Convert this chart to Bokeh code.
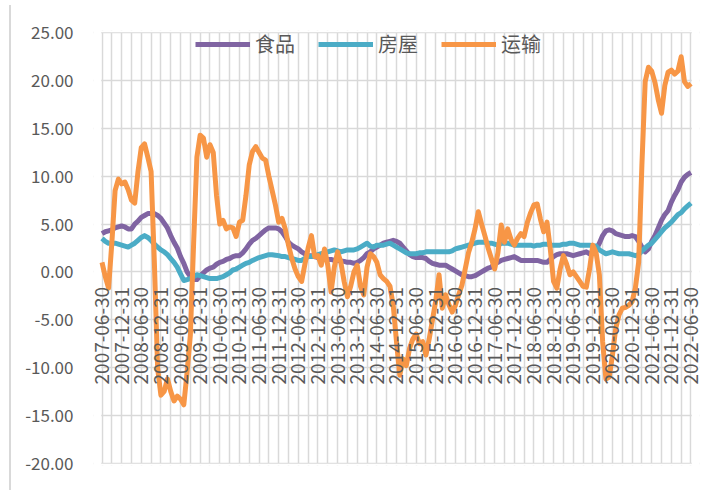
from math import pi
from bokeh.plotting import figure
from bokeh.models import (ColumnDataSource, FixedTicker, NumeralTickFormatter, Range1d, Legend,
                          LegendItem, BoxAnnotation, InlineStyleSheet)
from bokeh.embed import file_html
from bokeh.resources import INLINE

tick_labels = [
    "2007-06-30", "2007-12-31", "2008-06-30", "2008-12-31", "2009-06-30", "2009-12-31",
    "2010-06-30", "2010-12-31", "2011-06-30", "2011-12-31", "2012-06-30", "2012-12-31",
    "2013-06-30", "2013-12-31", "2014-06-30", "2014-12-31", "2015-06-30", "2015-12-31",
    "2016-06-30", "2016-12-31", "2017-06-30", "2017-12-31", "2018-06-30", "2018-12-31",
    "2019-06-30", "2019-12-31", "2020-06-30", "2020-12-31", "2021-06-30", "2021-12-31",
    "2022-06-30",
]

food = [
    4.0, 4.2, 4.3, 4.4, 4.6, 4.7, 4.8, 4.7, 4.5, 4.5, 5.0, 5.3,
    5.7, 5.9, 6.1, 6.1, 6.1, 5.9, 5.6, 5.1, 4.6, 3.8, 3.1, 2.5,
    1.6, 0.9, 0.0, -0.5, -0.8, -0.8, -0.4, -0.1, 0.2, 0.4, 0.5, 0.8,
    1.0, 1.1, 1.3, 1.4, 1.6, 1.7, 1.7, 2.0, 2.4, 2.9, 3.3, 3.5,
    3.8, 4.1, 4.4, 4.6, 4.6, 4.6, 4.5, 4.2, 3.7, 3.1, 2.8, 2.6,
    2.4, 2.1, 1.9, 1.7, 1.7, 1.6, 1.5, 1.5, 1.4, 1.3, 1.3, 1.2,
    1.2, 1.15, 1.1, 1.0, 1.0, 0.9, 1.0, 1.2, 1.5, 1.9, 2.1, 2.4,
    2.6, 2.8, 3.0, 3.1, 3.2, 3.3, 3.2, 3.0, 2.6, 2.2, 1.8, 1.6,
    1.5, 1.5, 1.5, 1.4, 1.1, 0.9, 0.8, 0.7, 0.7, 0.7, 0.5, 0.3,
    0.1, -0.1, -0.3, -0.4, -0.5, -0.5, -0.4, -0.2, 0.0, 0.2, 0.4, 0.5,
    0.9, 1.0, 1.2, 1.3, 1.4, 1.5, 1.6, 1.4, 1.2, 1.2, 1.2, 1.2,
    1.2, 1.2, 1.1, 1.0, 1.0, 1.3, 1.6, 1.8, 1.9, 1.9, 1.9, 1.8,
    1.7, 1.8, 1.9, 2.0, 2.1, 1.9, 2.1, 2.3, 3.0, 3.8, 4.3, 4.4,
    4.3, 4.0, 3.9, 3.8, 3.7, 3.7, 3.8, 3.7, 3.2, 2.6, 2.1, 2.4,
    3.2, 3.8, 4.6, 5.4, 6.0, 6.4, 7.3, 8.0, 8.6, 9.4, 9.9, 10.2,
    10.4,
]

housing = [
    3.5, 3.2, 3.0, 3.0, 3.0, 2.9, 2.8, 2.7, 2.6, 2.8, 3.0, 3.3,
    3.6, 3.8, 3.6, 3.3, 2.9, 2.6, 2.3, 2.1, 1.8, 1.4, 1.0, 0.5,
    -0.2, -0.9, -0.8, -0.7, -0.5, -0.3, -0.4, -0.5, -0.6, -0.7, -0.7, -0.7,
    -0.6, -0.5, -0.3, -0.1, 0.2, 0.3, 0.5, 0.7, 0.9, 1.0, 1.2, 1.35,
    1.5, 1.6, 1.7, 1.8, 1.8, 1.75, 1.7, 1.6, 1.6, 1.5, 1.4, 1.3,
    1.2, 1.2, 1.4, 1.6, 1.6, 1.7, 1.8, 1.9, 2.0, 2.1, 2.2, 2.3,
    2.2, 2.1, 2.2, 2.3, 2.3, 2.3, 2.4, 2.6, 2.8, 3.0, 2.7, 2.6,
    2.8, 2.8, 2.8, 2.9, 3.0, 2.8, 2.6, 2.4, 2.2, 2.0, 1.9, 1.9,
    1.9, 2.0, 2.0, 2.1, 2.1, 2.1, 2.1, 2.1, 2.1, 2.1, 2.1, 2.2,
    2.4, 2.5, 2.6, 2.7, 2.8, 2.9, 3.0, 3.1, 3.1, 3.1, 3.0, 3.0,
    2.9, 2.8, 3.0, 3.0, 3.0, 2.9, 2.8, 2.8, 2.8, 2.8, 2.8, 2.8,
    2.7, 2.8, 2.8, 2.9, 2.9, 2.8, 2.8, 2.8, 2.8, 2.9, 2.9, 3.0,
    3.0, 2.9, 2.8, 2.8, 2.8, 2.8, 2.7, 2.7, 2.3, 2.1, 1.9, 2.0,
    2.1, 2.0, 1.9, 1.9, 1.9, 1.9, 1.8, 1.7, 1.8, 2.2, 2.5, 2.8,
    3.0, 3.4, 3.8, 4.2, 4.6, 4.9, 5.2, 5.6, 6.0, 6.2, 6.6, 6.9,
    7.2,
]

transport = [
    1.0, -0.5, -1.7, 3.0, 8.5, 9.7, 9.2, 9.4, 8.6, 7.5, 7.2, 10.5,
    13.0, 13.4, 12.0, 10.5, 1.0, -10.1, -12.9, -12.5, -11.2, -12.5, -13.5, -13.0,
    -13.3, -13.9, -10.5, -6.6, 3.0, 12.0, 14.3, 14.0, 12.0, 13.3, 12.5, 8.0,
    5.0, 5.4, 4.5, 4.7, 4.6, 3.7, 5.2, 5.4, 8.0, 11.2, 12.6, 13.1,
    12.5, 11.9, 11.7, 10.0, 8.5, 7.0, 5.2, 5.6, 4.5, 2.8, 1.4, 0.3,
    -0.5, -1.0, 0.8, 2.5, 3.8, 1.6, 1.7, 0.7, 2.4, 0.7, -2.1, 0.5,
    2.1, 1.0, -1.0, -2.6, -1.5, 0.0, 0.7, -1.5, -2.4, 0.5, 1.9, 1.6,
    1.0, -0.3, -0.7, -1.0, -1.5, -3.5, -7.3, -10.8, -9.1, -9.8, -8.0, -7.0,
    -6.5, -7.5, -7.3, -8.7, -7.0, -5.0, -3.0, -0.3, -3.8, -2.4, -3.4, -4.2,
    -3.5, -2.4, -1.4, 0.3, 2.0, 3.1, 4.5, 6.3, 5.0, 3.8, 2.5, 1.4,
    0.3, 2.0, 4.9, 3.1, 4.5, 3.4, 2.8, 3.5, 4.0, 3.7, 5.2, 6.2,
    7.0, 7.1, 5.5, 4.2, 5.2, 2.4, -1.0, -1.7, 0.3, 1.7, 0.8, -0.3,
    0.0, -0.5, -1.0, -1.5, -1.6, 0.3, 2.8, 2.0, -0.3, -7.3, -11.2, -11.0,
    -8.7, -5.9, -4.5, -3.8, -3.7, -3.5, -3.1, -1.7, 1.0, 11.2, 19.9, 21.4,
    21.0, 19.8, 18.0, 16.6, 19.5, 20.9, 21.1, 20.7, 21.0, 22.5, 19.9, 19.4,
    19.7,
]

n = len(food)
idx = list(range(n))
tick_pos = list(range(0, n, 6))
y_ticks = [-20, -15, -10, -5, 0, 5, 10, 15, 20, 25]

FONT = "Noto Sans CJK SC"
GREY = "#595959"
GRID = "#d9d9d9"

# the frame is a little larger than the data box so the end tick labels are not clipped;
# the surplus is masked in white below
PADX = 2.6
PADY = 0.25
p = figure(frame_width=606, frame_height=435, output_backend="svg", toolbar_location=None,
           x_range=Range1d(-PADX, n - 1 + PADX), y_range=Range1d(-20 - PADY, 25 + PADY),
           min_border_left=93, min_border_right=14, min_border_top=30, min_border_bottom=25)

# thin chart-area border: only its top and left edges fall inside the picture
p.stylesheets = [InlineStyleSheet(css=(
    ":host { position: relative; overflow: hidden; }"
    ":host::before { content: ''; position: absolute; left: 9px; top: 5px; right: 0; "
    "height: 1.5px; background: #d9d9d9; pointer-events: none; }"
    ":host::after { content: ''; position: absolute; left: 9px; top: 5px; bottom: 0; "
    "width: 1.5px; background: #d9d9d9; pointer-events: none; }"
))]

p.outline_line_color = None
p.background_fill_color = "white"
p.border_fill_color = "white"

# x axis drawn across the zero line, like the original
p.xaxis.fixed_location = 0
p.xaxis.ticker = FixedTicker(ticks=tick_pos)
p.xaxis.major_label_overrides = {t: lab for t, lab in zip(tick_pos, tick_labels)}
p.xaxis.major_label_orientation = pi / 2
p.xaxis.axis_line_color = None
p.xaxis.major_tick_line_color = None
p.xaxis.minor_tick_line_color = None
p.xaxis.major_tick_out = 0
p.xaxis.major_tick_in = 0
p.xaxis.major_label_standoff = 15
p.xaxis.major_label_text_font = FONT
p.xaxis.major_label_text_font_size = "19px"
p.xaxis.major_label_text_color = GREY

p.xgrid.ticker = FixedTicker(ticks=list(range(0, n, 3)))
p.xgrid.grid_line_color = GRID
p.xgrid.grid_line_width = 1.5

p.yaxis.ticker = FixedTicker(ticks=y_ticks)
p.yaxis.formatter = NumeralTickFormatter(format="0.00")
p.yaxis.axis_line_color = None
p.yaxis.major_tick_line_color = None
p.yaxis.minor_tick_line_color = None
p.yaxis.major_tick_out = 0
p.yaxis.major_tick_in = 0
p.yaxis.major_label_standoff = 20
p.yaxis.major_label_text_font = FONT
p.yaxis.major_label_text_font_size = "17px"
p.yaxis.major_label_text_color = GREY
p.ygrid.grid_line_color = GRID
p.ygrid.grid_line_width = 1.5

# white masks over the padding strips (drawn over the grid, under the data and labels)
e = 0.24
for kw in (dict(right=-e), dict(left=n - 1 + e), dict(bottom=25 + 0.08), dict(top=-20 - 0.08)):
    p.add_layout(BoxAnnotation(fill_color="white", fill_alpha=1, line_alpha=0,
                               level="underlay", **kw))

src = ColumnDataSource(dict(x=idx, food=food, housing=housing, transport=transport))

r1 = p.line("x", "food", source=src, line_color="#8064A2", line_width=5, line_join="round")
r2 = p.line("x", "housing", source=src, line_color="#4BACC6", line_width=5, line_join="round")
r3 = p.line("x", "transport", source=src, line_color="#F79646", line_width=5, line_join="round")

legend = Legend(items=[LegendItem(label="食品", renderers=[r1]),
                       LegendItem(label="房屋", renderers=[r2]),
                       LegendItem(label="运输", renderers=[r3])],
                orientation="horizontal", location=(102, 407),
                glyph_width=55, glyph_height=26, label_standoff=5, spacing=23,
                padding=0, margin=0, label_height=26,
                label_text_font=FONT, label_text_font_size="20px", label_text_color=GREY,
                border_line_color=None, background_fill_alpha=0)
p.add_layout(legend, "center")

open("out.html", "w").write(file_html(p, INLINE))
